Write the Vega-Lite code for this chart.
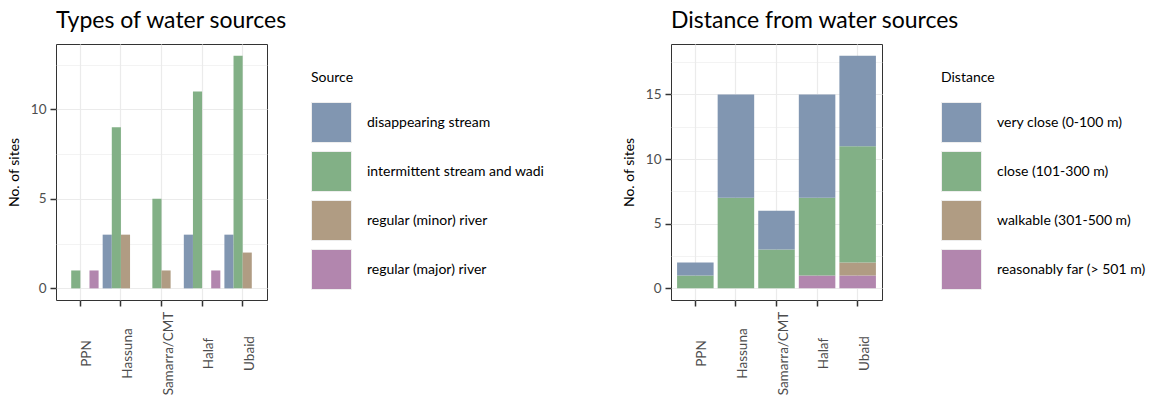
{
  "$schema": "https://vega.github.io/schema/vega-lite/v6.json",
  "background": "white",
  "padding": {"left": 6, "top": 9, "right": 0, "bottom": 0},
  "spacing": 75,
  "config": {
    "font": "Lato",
    "view": {"stroke": "#333333", "strokeWidth": 1},
    "axis": {
      "domain": false,
      "gridColor": "#ebebeb",
      "tickColor": "#333333",
      "tickSize": 6,
      "tickWidth": 1.5,
      "labelColor": "#4d4d4d",
      "labelFont": "Lato",
      "labelFontSize": 13.5,
      "titleFont": "Lato",
      "titleFontSize": 14,
      "titleFontWeight": "normal",
      "titleColor": "#000000"
    },
    "axisY": {
      "titlePadding": 9,
      "labelPadding": 4,
      "labelExpr": "datum.value % 5 === 0 ? datum.label : ''",
      "tickOpacity": {"condition": {"test": "datum.value % 5 !== 0", "value": 0}, "value": 1},
      "gridWidth": {"condition": {"test": "datum.value % 5 !== 0", "value": 0.6}, "value": 1.2}
    },
    "legend": {
      "orient": "none",
      "legendY": 27,
      "symbolType": "square",
      "symbolSize": 1600,
      "symbolStrokeColor": "#eeeeee",
      "symbolStrokeWidth": 1,
      "symbolOpacity": 1,
      "labelFont": "Lato",
      "labelFontSize": 14,
      "labelColor": "#000000",
      "labelOffset": 15,
      "labelLimit": 0,
      "titleFont": "Lato",
      "titleFontSize": 14,
      "titleFontWeight": "normal",
      "titleColor": "#000000",
      "titlePadding": 17,
      "rowPadding": 4
    },
    "title": {
      "font": "Lato",
      "fontSize": 23,
      "fontWeight": "normal",
      "color": "#000000",
      "anchor": "start",
      "frame": "group",
      "offset": 11
    }
  },
  "datasets": {
    "sources": [
      {"period": "PPN", "source": "intermittent stream and wadi", "sites": 1},
      {"period": "PPN", "source": "regular (major) river", "sites": 1},
      {"period": "Hassuna", "source": "disappearing stream", "sites": 3},
      {"period": "Hassuna", "source": "intermittent stream and wadi", "sites": 9},
      {"period": "Hassuna", "source": "regular (minor) river", "sites": 3},
      {"period": "Samarra/CMT", "source": "intermittent stream and wadi", "sites": 5},
      {"period": "Samarra/CMT", "source": "regular (minor) river", "sites": 1},
      {"period": "Halaf", "source": "disappearing stream", "sites": 3},
      {"period": "Halaf", "source": "intermittent stream and wadi", "sites": 11},
      {"period": "Halaf", "source": "regular (major) river", "sites": 1},
      {"period": "Ubaid", "source": "disappearing stream", "sites": 3},
      {"period": "Ubaid", "source": "intermittent stream and wadi", "sites": 13},
      {"period": "Ubaid", "source": "regular (minor) river", "sites": 2}
    ],
    "distances": [
      {"period": "PPN", "distance": "close (101-300 m)", "sites": 1},
      {"period": "PPN", "distance": "very close (0-100 m)", "sites": 1},
      {"period": "Hassuna", "distance": "close (101-300 m)", "sites": 7},
      {"period": "Hassuna", "distance": "very close (0-100 m)", "sites": 8},
      {"period": "Samarra/CMT", "distance": "close (101-300 m)", "sites": 3},
      {"period": "Samarra/CMT", "distance": "very close (0-100 m)", "sites": 3},
      {"period": "Halaf", "distance": "reasonably far (> 501 m)", "sites": 1},
      {"period": "Halaf", "distance": "close (101-300 m)", "sites": 6},
      {"period": "Halaf", "distance": "very close (0-100 m)", "sites": 8},
      {"period": "Ubaid", "distance": "reasonably far (> 501 m)", "sites": 1},
      {"period": "Ubaid", "distance": "walkable (301-500 m)", "sites": 1},
      {"period": "Ubaid", "distance": "close (101-300 m)", "sites": 9},
      {"period": "Ubaid", "distance": "very close (0-100 m)", "sites": 7}
    ]
  },
  "hconcat": [
    {
      "title": "Types of water sources",
      "width": 211,
      "height": 256,
      "data": {"name": "sources"},
      "mark": {"type": "bar"},
      "encoding": {
        "x": {
          "field": "period",
          "type": "nominal",
          "sort": ["PPN", "Hassuna", "Samarra/CMT", "Halaf", "Ubaid"],
          "scale": {"paddingInner": 0.1, "paddingOuter": 0.15},
          "axis": {
            "title": null,
            "grid": true,
            "gridWidth": 1.2,
            "labelAngle": 270,
            "labelAlign": "center",
            "labelBaseline": "top",
            "labelPadding": 47,
            "labelOverlap": false
          }
        },
        "xOffset": {
          "field": "source",
          "type": "nominal",
          "sort": ["disappearing stream", "intermittent stream and wadi", "regular (minor) river", "regular (major) river"]
        },
        "y": {
          "field": "sites",
          "type": "quantitative",
          "scale": {"domain": [-0.65, 13.65], "nice": false, "zero": false},
          "axis": {"title": "No. of sites", "titleFontWeight": "normal", "values": [0, 2.5, 5, 7.5, 10, 12.5]}
        },
        "color": {
          "field": "source",
          "type": "nominal",
          "sort": ["disappearing stream", "intermittent stream and wadi", "regular (minor) river", "regular (major) river"],
          "scale": {
            "domain": ["disappearing stream", "intermittent stream and wadi", "regular (minor) river", "regular (major) river"],
            "range": ["#8196b1", "#82b086", "#b09c83", "#b286ae"]
          },
          "legend": {"title": "Source", "legendX": 255}
        }
      }
    },
    {
      "title": "Distance from water sources",
      "width": 211,
      "height": 256,
      "data": {"name": "distances"},
      "transform": [
        {"calculate": "indexof(['very close (0-100 m)', 'close (101-300 m)', 'walkable (301-500 m)', 'reasonably far (> 501 m)'], datum.distance)", "as": "stackRank"}
      ],
      "mark": {"type": "bar"},
      "encoding": {
        "x": {
          "field": "period",
          "type": "nominal",
          "sort": ["PPN", "Hassuna", "Samarra/CMT", "Halaf", "Ubaid"],
          "scale": {"paddingInner": 0.1, "paddingOuter": 0.15},
          "axis": {
            "title": null,
            "grid": true,
            "gridWidth": 1.2,
            "labelAngle": 270,
            "labelAlign": "center",
            "labelBaseline": "top",
            "labelPadding": 47,
            "labelOverlap": false
          }
        },
        "y": {
          "field": "sites",
          "type": "quantitative",
          "stack": "zero",
          "scale": {"domain": [-0.9, 18.9], "nice": false, "zero": false},
          "axis": {"title": "No. of sites", "titleFontWeight": "normal", "values": [0, 2.5, 5, 7.5, 10, 12.5, 15, 17.5]}
        },
        "order": {"field": "stackRank", "type": "quantitative", "sort": "descending"},
        "color": {
          "field": "distance",
          "type": "nominal",
          "sort": ["very close (0-100 m)", "close (101-300 m)", "walkable (301-500 m)", "reasonably far (> 501 m)"],
          "scale": {
            "domain": ["very close (0-100 m)", "close (101-300 m)", "walkable (301-500 m)", "reasonably far (> 501 m)"],
            "range": ["#8196b1", "#82b086", "#b09c83", "#b286ae"]
          },
          "legend": {"title": "Distance", "legendX": 270}
        }
      }
    }
  ],
  "resolve": {"scale": {"color": "independent"}, "legend": {"color": "independent"}}
}
